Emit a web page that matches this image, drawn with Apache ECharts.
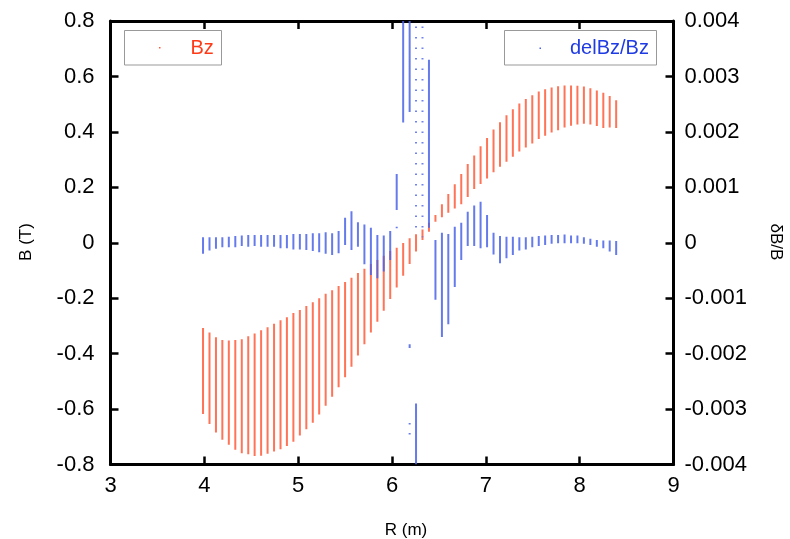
<!DOCTYPE html>
<html>
<head>
<meta charset="utf-8">
<script src="https://cdn.jsdelivr.net/npm/echarts/dist/echarts.min.js"></script>
<style>
html,body{margin:0;padding:0;background:#fff;}
#chart{width:790px;height:539px;}
</style>
</head>
<body>
<div id="chart"></div>
<script>
// R positions of each measurement strip (m)
const rValues = [3.986,4.055,4.124,4.192,4.261,4.330,4.399,4.468,4.536,4.605,
  4.674,4.743,4.812,4.880,4.949,5.018,5.087,5.156,5.224,5.293,
  5.362,5.431,5.500,5.568,5.637,5.706,5.775,5.844,5.912,5.981,
  6.050,6.119,6.188,6.256,6.325,6.394,6.463,6.532,6.600,6.669,
  6.738,6.807,6.876,6.944,7.013,7.082,7.151,7.220,7.288,7.357,
  7.426,7.495,7.564,7.632,7.701,7.770,7.839,7.908,7.976,8.045,
  8.114,8.183,8.252,8.320,8.389];

// Bz (T): top and bottom of each strip
const bzMax = [-0.308,-0.324,-0.341,-0.351,-0.353,-0.351,-0.348,-0.337,-0.327,-0.316,
  -0.305,-0.292,-0.280,-0.269,-0.253,-0.243,-0.228,-0.215,-0.200,-0.184,
  -0.171,-0.156,-0.142,-0.126,-0.109,-0.094,-0.077,-0.062,-0.047,-0.030,
  -0.018,-0.001,0.016,0.031,0.048,0.072,0.100,0.139,0.176,0.211,
  0.248,0.284,0.315,0.348,0.378,0.409,0.435,0.460,0.482,0.502,
  0.519,0.532,0.546,0.554,0.560,0.565,0.567,0.567,0.566,0.564,
  0.557,0.549,0.541,0.529,0.514];
const bzMin = [-0.618,-0.654,-0.685,-0.711,-0.729,-0.747,-0.759,-0.763,-0.769,-0.768,
  -0.761,-0.753,-0.745,-0.733,-0.718,-0.695,-0.673,-0.649,-0.620,-0.588,
  -0.556,-0.521,-0.485,-0.447,-0.407,-0.366,-0.324,-0.285,-0.245,-0.203,
  -0.161,-0.119,-0.077,-0.032,0.010,0.040,0.076,0.092,0.108,0.124,
  0.139,0.165,0.194,0.212,0.232,0.254,0.274,0.292,0.310,0.329,
  0.344,0.358,0.374,0.386,0.398,0.406,0.416,0.422,0.427,0.429,
  0.427,0.421,0.414,0.416,0.414];

// delBz/Bz: top and bottom of each dense strip (null = no dense strip)
const dMax = [0.0001,0.0001,0.0001,0.0001,0.00011,0.00012,0.00013,0.00014,0.00014,0.00014,
  0.00014,0.00014,0.00014,0.00014,0.00016,0.00016,0.00016,0.00017,0.00017,0.00019,
  0.00017,0.00021,0.00045,0.00057,0.00037,0.00033,0.00027,0.00014,0.00013,0.00021,
  0.00124,0.0042,0.0042,-0.0029,null,0.0033,0.00005,0.00018,0.00016,0.00029,
  0.00036,0.00056,0.00067,0.00074,0.0005,0.00018,0.00012,0.00011,0.00011,0.0001,
  0.0001,0.00011,0.00012,0.00013,0.00014,0.00014,0.00015,0.00013,0.00013,0.0001,
  0.00007,0.00005,0.00004,0.00004,0.00003];
const dMin = [-0.0002,-0.00014,-0.00011,-0.00008,-0.00008,-0.00008,-0.00006,-0.00007,-0.00006,-0.00007,
  -0.00007,-0.00007,-0.0001,-0.0001,-0.00012,-0.00012,-0.00013,-0.00015,-0.00017,-0.0002,
  -0.00022,-0.00019,-0.00004,-0.00013,-0.00007,-0.00039,-0.00058,-0.00064,-0.00052,-0.00031,
  0.00059,0.00217,0.00236,-0.0042,null,0.00027,-0.00103,-0.0017,-0.00147,-0.0008,
  -0.00031,-0.00006,-0.00006,-0.0001,-0.00008,-0.00021,-0.00037,-0.00028,-0.00022,-0.00014,
  -0.00012,-0.00008,-0.00006,-0.00004,-0.00002,-0.00001,-0.00001,-0.00001,-0.00001,-0.00002,
  -0.00004,-0.00007,-0.0001,-0.00016,-0.00022];

// sparse dotted columns of delBz/Bz
const sparseR = [6.256, 6.325];
const sparseLo = [0.0002, 0.0001];
const sparseHi = [0.0039, 0.0039];

// isolated small groups of delBz/Bz points
const extraR = [6.188, 6.188, 6.188, 6.050];
const extraLo = [-0.0019, -0.00328, -0.00346, 0.00026];
const extraHi = [-0.00183, -0.00325, -0.00343, 0.00029];

const xTicks = {min: 3, max: 9, interval: 1};
const yTicks = {min: -0.8, max: 0.8, interval: 0.2};
const y2Ticks = {min: -0.004, max: 0.004, interval: 0.001};

const FONT = 'Liberation Sans, Arial, Helvetica, sans-serif';
const RED = '#ff5a3a';
const BLUE = '#4a64e8';

function zip3(a, b, c) { return a.map((v, i) => [v, b[i], c[i]]); }

function stripRender(color, dashed) {
  return function (params, api) {
    const r = api.value(0), lo = api.value(1), hi = api.value(2);
    if (isNaN(lo) || isNaN(hi)) return null;
    const cs = params.coordSys;
    const p1 = api.coord([r, hi]);
    const p2 = api.coord([r, lo]);
    let top = Math.max(Math.min(p1[1], p2[1]), cs.y);
    let bot = Math.min(Math.max(p1[1], p2[1]), cs.y + cs.height);
    if (bot < top) return null;
    if (dashed) {
      return {type: 'line', shape: {x1: p1[0], y1: top, x2: p1[0], y2: bot},
        style: {stroke: color, lineWidth: 2, lineDash: [1.5, 9], opacity: 0.8}};
    }
    return {type: 'rect', shape: {x: p1[0] - 1, y: top, width: 2, height: Math.max(bot - top, 1.2)},
      style: {fill: color, opacity: 0.85}};
  };
}

const axisCommon = {
  axisLine: {show: true, onZero: false, lineStyle: {color: '#000', width: 3}},
  axisTick: {show: true, inside: true, length: 8, lineStyle: {color: '#000', width: 2.5}},
  splitLine: {show: false},
  axisLabel: {color: '#000', fontSize: 22, fontFamily: FONT}
};

const chart = echarts.init(document.getElementById('chart'), null, {renderer: 'canvas'});
chart.setOption({
  animation: false,
  backgroundColor: '#fff',
  grid: {left: 110.5, right: 116.5, top: 21, bottom: 74.5, containLabel: false},
  xAxis: [
    Object.assign({}, axisCommon, {type: 'value', position: 'bottom', min: xTicks.min, max: xTicks.max, interval: xTicks.interval,
      axisLabel: Object.assign({}, axisCommon.axisLabel, {margin: 10})}),
    Object.assign({}, axisCommon, {type: 'value', position: 'top', min: xTicks.min, max: xTicks.max, interval: xTicks.interval,
      axisLabel: {show: false}})
  ],
  yAxis: [
    Object.assign({}, axisCommon, {type: 'value', position: 'left', min: yTicks.min, max: yTicks.max, interval: yTicks.interval,
      axisLabel: Object.assign({}, axisCommon.axisLabel, {margin: 16,
        formatter: v => { const r = Math.round(v * 10); return r === 0 ? '0' : (r / 10).toString(); }})}),
    Object.assign({}, axisCommon, {type: 'value', position: 'right', min: y2Ticks.min, max: y2Ticks.max, interval: y2Ticks.interval,
      axisLabel: Object.assign({}, axisCommon.axisLabel, {margin: 11,
        formatter: v => { const r = Math.round(v * 1000); return r === 0 ? '0' : (r / 1000).toFixed(3); }})})
  ],
  series: [
    {type: 'custom', name: 'Bz', xAxisIndex: 0, yAxisIndex: 0, clip: true,
      renderItem: stripRender(RED, false), data: zip3(rValues, bzMin, bzMax)},
    {type: 'custom', name: 'delBz/Bz', xAxisIndex: 0, yAxisIndex: 1, clip: true,
      renderItem: stripRender(BLUE, false), data: zip3(rValues, dMin, dMax)},
    {type: 'custom', name: 'delBz/Bz sparse', xAxisIndex: 0, yAxisIndex: 1, clip: true,
      renderItem: stripRender(BLUE, true), data: zip3(sparseR, sparseLo, sparseHi)},
    {type: 'custom', name: 'delBz/Bz extra', xAxisIndex: 0, yAxisIndex: 1, clip: true,
      renderItem: stripRender(BLUE, false), data: zip3(extraR, extraLo, extraHi)}
  ],
  graphic: [
    {type: 'rect', shape: {x: 124.5, y: 30.5, width: 97, height: 34.5}, style: {fill: 'none', stroke: '#999', lineWidth: 1}},
    {type: 'rect', shape: {x: 159, y: 47, width: 1.5, height: 1.5}, style: {fill: RED}},
    {type: 'text', x: 190.5, y: 48, style: {text: 'Bz', fill: '#ff3a18', font: '20px ' + FONT, align: 'left', verticalAlign: 'middle', textAlign: 'left', textVerticalAlign: 'middle'}},
    {type: 'rect', shape: {x: 504.5, y: 30.5, width: 152, height: 34.5}, style: {fill: 'none', stroke: '#999', lineWidth: 1}},
    {type: 'rect', shape: {x: 539.5, y: 47.5, width: 1.5, height: 1.5}, style: {fill: BLUE}},
    {type: 'text', x: 570, y: 48, style: {text: 'delBz/Bz', fill: '#1f3be3', font: '20px ' + FONT, align: 'left', verticalAlign: 'middle', textAlign: 'left', textVerticalAlign: 'middle'}},
    {type: 'text', x: 406, y: 530, style: {text: 'R (m)', fill: '#000', font: '17px ' + FONT, align: 'center', verticalAlign: 'middle', textAlign: 'center', textVerticalAlign: 'middle'}},
    {type: 'text', x: 26, y: 242, rotation: Math.PI / 2, style: {text: 'B (T)', fill: '#000', font: '17px ' + FONT, align: 'center', verticalAlign: 'middle', textAlign: 'center', textVerticalAlign: 'middle'}},
    {type: 'text', x: 776, y: 242, rotation: -Math.PI / 2, style: {text: 'δB/B', fill: '#000', font: '17px ' + FONT, align: 'center', verticalAlign: 'middle', textAlign: 'center', textVerticalAlign: 'middle'}}
  ]
});
</script>
</body>
</html>
